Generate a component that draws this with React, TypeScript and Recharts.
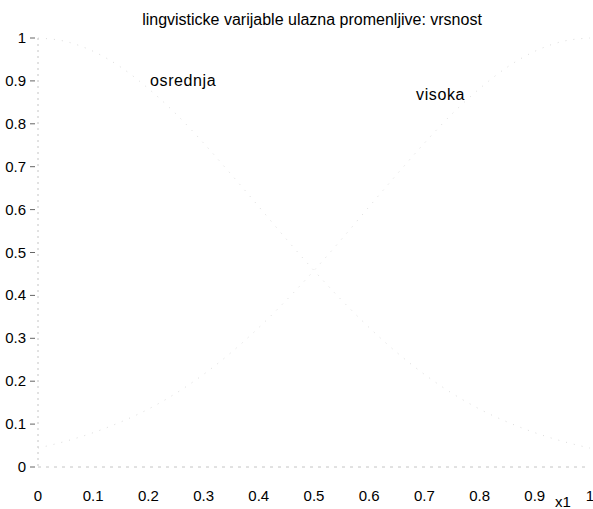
import React from 'react';
import { LineChart, Line, XAxis, YAxis, ReferenceDot } from 'recharts';

const xValues = [0, 0.05, 0.1, 0.15, 0.2, 0.25, 0.3, 0.35, 0.4, 0.45, 0.5, 0.55, 0.6, 0.65, 0.7, 0.75, 0.8, 0.85, 0.9, 0.95, 1];
const osrednja = [1, 0.992, 0.969, 0.932, 0.882, 0.823, 0.755, 0.682, 0.607, 0.531, 0.458, 0.389, 0.325, 0.267, 0.216, 0.172, 0.135, 0.105, 0.08, 0.06, 0.044];
const visoka = [0.044, 0.06, 0.08, 0.105, 0.135, 0.172, 0.216, 0.267, 0.325, 0.389, 0.458, 0.531, 0.607, 0.682, 0.755, 0.823, 0.882, 0.932, 0.969, 0.992, 1];

const xTicks = [0, 0.1, 0.2, 0.3, 0.4, 0.5, 0.6, 0.7, 0.8, 0.9, 1];
const yTicks = [0, 0.1, 0.2, 0.3, 0.4, 0.5, 0.6, 0.7, 0.8, 0.9, 1];
const xTickLabels = ['0', '0.1', '0.2', '0.3', '0.4', '0.5', '0.6', '0.7', '0.8', '0.9', '1'];
const yTickLabels = ['0', '0.1', '0.2', '0.3', '0.4', '0.5', '0.6', '0.7', '0.8', '0.9', '1'];

const mfNames = ['osrednja', 'visoka'];
const mfLabelX = [0.203, 0.685];
const mfLabelY = [0.888, 0.855];

const title = 'lingvisticke varijable ulazna promenljive: vrsnost';
const xLabel = 'x1';

const rows = xValues.map((x, i) => ({ x, osrednja: osrednja[i], visoka: visoka[i] }));

const FONT = '"Liberation Sans", Arial, sans-serif';

const YTick = (props: any) => {
  const { x, y, payload } = props;
  const idx = yTicks.indexOf(payload.value);
  return (
    <g>
      <line x1={x} x2={x + 5} y1={y} y2={y} stroke="#666" strokeWidth={1} />
      <text x={x - 4} y={y + 5} textAnchor="end" fontSize={15} fontFamily={FONT} fill="#000">
        {yTickLabels[idx]}
      </text>
    </g>
  );
};

const XTick = (props: any) => {
  const { x, y, payload } = props;
  const idx = xTicks.indexOf(payload.value);
  return (
    <g>
      <text x={x} y={y + 26} textAnchor="middle" fontSize={15} fontFamily={FONT} fill="#000">
        {xTickLabels[idx]}
      </text>
    </g>
  );
};

const MfLabel = (name: string) => (props: any) => {
  const { viewBox } = props;
  return (
    <text x={viewBox.x} y={viewBox.y} textAnchor="start" fontSize={16} letterSpacing={0.6} fontFamily={FONT} fill="#000">
      {name}
    </text>
  );
};

export default function App() {
  return (
    <div style={{ position: 'absolute', left: 0, top: 0, width: 593, height: 509, overflow: 'hidden', background: '#fff' }}>
      <LineChart width={593} height={509} data={rows} margin={{ top: 38, right: 3, bottom: 0, left: 0 }}>
        <XAxis
          dataKey="x"
          type="number"
          domain={[0, 1]}
          ticks={xTicks}
          tick={<XTick />}
          tickLine={false}
          axisLine={{ stroke: '#c4c4c4', strokeDasharray: '3 5' }}
          height={42}
          interval={0}
        />
        <XAxis
          xAxisId="top"
          orientation="top"
          dataKey="x"
          type="number"
          domain={[0, 1]}
          ticks={xTicks}
          tick={false}
          tickLine={false}
          axisLine={{ stroke: '#c4c4c4', strokeDasharray: '3 5' }}
          height={0}
        />
        <YAxis
          type="number"
          domain={[0, 1]}
          ticks={yTicks}
          tick={<YTick />}
          tickLine={false}
          axisLine={{ stroke: '#c4c4c4', strokeDasharray: '2 4' }}
          width={38}
          interval={0}
        />
        <YAxis
          yAxisId="right"
          orientation="right"
          type="number"
          domain={[0, 1]}
          ticks={yTicks}
          tick={false}
          tickLine={false}
          axisLine={{ stroke: '#c4c4c4', strokeDasharray: '2 4' }}
          width={0}
        />
        <Line type="monotone" dataKey="osrednja" stroke="#dcdcdc" strokeWidth={1} strokeDasharray="1 7" dot={false} isAnimationActive={false} />
        <Line type="monotone" dataKey="visoka" stroke="#dcdcdc" strokeWidth={1} strokeDasharray="1 7" dot={false} isAnimationActive={false} />
        {mfNames.map((n, i) => (
          <ReferenceDot key={n} x={mfLabelX[i]} y={mfLabelY[i]} r={0} fill="none" stroke="none" label={MfLabel(n)} />
        ))}
        <text x={312} y={25} textAnchor="middle" fontSize={16} fontFamily={FONT} fill="#000">
          {title}
        </text>
        <text x={563} y={507} textAnchor="middle" fontSize={15} fontFamily={FONT} fill="#000">
          {xLabel}
        </text>
      </LineChart>
    </div>
  );
}
